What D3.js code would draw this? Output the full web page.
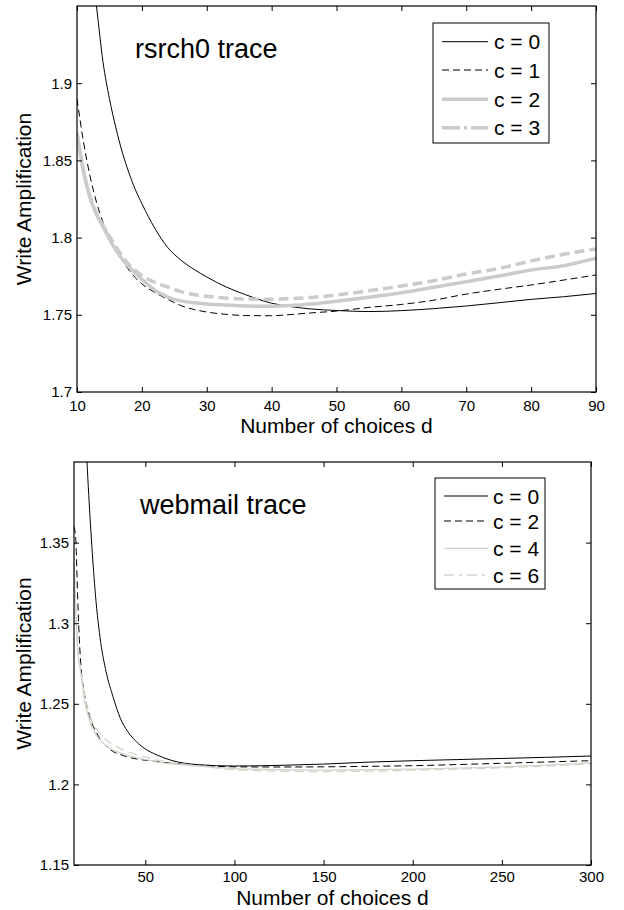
<!DOCTYPE html>
<html>
<head>
<meta charset="utf-8">
<script src="https://cdn.jsdelivr.net/npm/d3@7"></script>
<style>
  body { margin: 0; background: #fff; }
  svg { display: block; }
  text { font-family: "Liberation Sans", Arial, Helvetica, sans-serif; fill: #000; }
</style>
</head>
<body>
<svg id="chart" width="624" height="910"></svg>
<script>
// rsrch0 trace (top panel)
const rsrchD = [10, 11, 12, 13, 14, 15, 16, 17, 18, 19, 20, 22, 24, 26, 28, 30, 33, 36, 40, 43, 46, 50, 55, 60, 65, 70, 75, 80, 85, 90];
const rsrchC0 = [2.08, 2.03, 1.985, 1.950, 1.914, 1.890, 1.871, 1.855, 1.842, 1.831, 1.822, 1.806, 1.7935, 1.7855, 1.7795, 1.7745, 1.768, 1.763, 1.7575, 1.7553, 1.7538, 1.7528, 1.7521, 1.7527, 1.754, 1.7557, 1.7578, 1.760, 1.7617, 1.7638];
const rsrchC1 = [1.890, 1.862, 1.840, 1.823, 1.810, 1.800, 1.792, 1.785, 1.779, 1.774, 1.770, 1.7645, 1.760, 1.756, 1.7535, 1.7518, 1.7503, 1.7495, 1.7494, 1.7502, 1.7512, 1.7524, 1.7548, 1.7567, 1.7595, 1.7634, 1.7665, 1.7693, 1.7725, 1.7758];
const rsrchC2 = [1.868, 1.843, 1.826, 1.815, 1.807, 1.799, 1.792, 1.786, 1.781, 1.777, 1.773, 1.766, 1.7615, 1.759, 1.7578, 1.757, 1.7563, 1.7557, 1.7555, 1.756, 1.757, 1.7588, 1.7613, 1.7643, 1.7678, 1.7714, 1.7751, 1.779, 1.7818, 1.7866];
const rsrchC3 = [1.867, 1.843, 1.827, 1.816, 1.808, 1.801, 1.794, 1.788, 1.7825, 1.7788, 1.7755, 1.771, 1.768, 1.765, 1.7632, 1.762, 1.7608, 1.7602, 1.760, 1.7605, 1.7612, 1.7628, 1.7656, 1.7686, 1.7721, 1.7764, 1.780, 1.7849, 1.7892, 1.7927];
const rsrchXTicks = [10, 20, 30, 40, 50, 60, 70, 80, 90];
const rsrchYTicks = [1.7, 1.75, 1.8, 1.85, 1.9];
const rsrchLabels = ['c = 0', 'c = 1', 'c = 2', 'c = 3'];

// webmail trace (bottom panel)
const webD = [10, 11, 12, 13, 14, 15, 16, 18, 20, 22, 25, 28, 32, 36, 40, 45, 50, 56, 65, 80, 100, 125, 150, 175, 200, 225, 250, 275, 300];
const webC0 = [1.66, 1.61, 1.56, 1.52, 1.48, 1.455, 1.43, 1.385, 1.348, 1.318, 1.288, 1.270, 1.254, 1.241, 1.233, 1.2265, 1.222, 1.2185, 1.2148, 1.2122, 1.2114, 1.2118, 1.2126, 1.2138, 1.2147, 1.2154, 1.2161, 1.2168, 1.2176];
const webC2 = [1.360, 1.352, 1.318, 1.290, 1.272, 1.262, 1.255, 1.2455, 1.238, 1.2335, 1.2275, 1.2238, 1.2203, 1.2185, 1.2170, 1.2158, 1.215, 1.2142, 1.2131, 1.2118, 1.2109, 1.2108, 1.2109, 1.2112, 1.2116, 1.2123, 1.2131, 1.2139, 1.2147];
const webC4 = [1.335, 1.305, 1.284, 1.275, 1.268, 1.260, 1.2515, 1.2425, 1.236, 1.2315, 1.227, 1.224, 1.2213, 1.2195, 1.218, 1.2166, 1.2155, 1.214, 1.2127, 1.2113, 1.2098, 1.2091, 1.2089, 1.2091, 1.2095, 1.2101, 1.2109, 1.212, 1.2134];
const webC6 = [1.338, 1.310, 1.286, 1.276, 1.269, 1.262, 1.255, 1.246, 1.2395, 1.2355, 1.231, 1.2275, 1.2245, 1.2222, 1.2203, 1.2185, 1.217, 1.2152, 1.2135, 1.2115, 1.2091, 1.2082, 1.2079, 1.2082, 1.2088, 1.2095, 1.2103, 1.2114, 1.2129];
const webXTicks = [50, 100, 150, 200, 250, 300];
const webYTicks = [1.15, 1.2, 1.25, 1.3, 1.35];
const webLabels = ['c = 0', 'c = 2', 'c = 4', 'c = 6'];

const svg = d3.select('#chart');

const GRAY = '#cbcbcb';
const WARM = '#d6d2ca';

const panels = [
  {
    id: 'rsrch', title: 'rsrch0 trace', titleX: 135, titleY: 58,
    left: 77, right: 596, top: 6, bottom: 392,
    xDomain: [10, 90], yDomain: [1.7, 1.95],
    xTicks: rsrchXTicks, yTicks: rsrchYTicks, xLabelY: 433, xPad: 8,
    d: rsrchD,
    series: [
      { values: rsrchC0, label: rsrchLabels[0], color: '#000', width: 1, dash: null },
      { values: rsrchC1, label: rsrchLabels[1], color: '#000', width: 1, dash: '7,4' },
      { values: rsrchC2, label: rsrchLabels[2], color: GRAY, width: 3.5, dash: null },
      { values: rsrchC3, label: rsrchLabels[3], color: GRAY, width: 3.5, dash: '10,5', legendDash: '18,4,3,4' }
    ],
    legend: { x0: 433, y0: 23, x1: 549, y1: 143, rows: [41.7, 70, 99.3, 127.7], lx0: 442, lx1: 488, tx: 494 }
  },
  {
    id: 'web', title: 'webmail trace', titleX: 140, titleY: 514,
    left: 74, right: 591, top: 462, bottom: 865,
    xDomain: [10, 300], yDomain: [1.15, 1.4],
    xTicks: webXTicks, yTicks: webYTicks, xLabelY: 905, xPad: 6,
    d: webD,
    series: [
      { values: webC0, label: webLabels[0], color: '#000', width: 1, dash: null },
      { values: webC2, label: webLabels[1], color: '#000', width: 1, dash: '7,4' },
      { values: webC4, label: webLabels[2], color: WARM, width: 1.3, dash: null },
      { values: webC6, label: webLabels[3], color: WARM, width: 1.3, dash: '9,5', legendDash: '10,5,3,5' }
    ],
    legend: { x0: 435, y0: 478, x1: 545, y1: 589, rows: [496, 521, 548.3, 575], lx0: 444, lx1: 488, tx: 493 }
  }
];

function styleAxis(sel) {
  sel.select('.domain').remove();
  sel.selectAll('.tick line').attr('stroke', '#000').attr('stroke-width', 1);
  sel.selectAll('.tick text').attr('font-size', 15)
    .attr('font-family', '"Liberation Sans", Arial, Helvetica, sans-serif')
    .attr('fill', '#000');
}

panels.forEach(p => {
  const x = d3.scaleLinear().domain(p.xDomain).range([p.left, p.right]);
  const y = d3.scaleLinear().domain(p.yDomain).range([p.bottom, p.top]);
  const g = svg.append('g').attr('class', 'panel-' + p.id);

  const clipId = 'clip-' + p.id;
  svg.append('clipPath').attr('id', clipId)
    .append('rect')
    .attr('x', p.left).attr('y', p.top)
    .attr('width', p.right - p.left).attr('height', p.bottom - p.top);

  const line = d3.line()
    .x((v, i) => x(p.d[i]))
    .y(v => y(v))
    .curve(d3.curveMonotoneX);

  // series
  const lines = g.append('g').attr('clip-path', `url(#${clipId})`);
  p.series.forEach(s => {
    lines.append('path')
      .attr('d', line(s.values))
      .attr('fill', 'none')
      .attr('stroke', s.color)
      .attr('stroke-width', s.width)
      .attr('stroke-dasharray', s.dash)
      .attr('stroke-linejoin', 'round');
  });

  // axes, ticks inward on all four sides
  g.append('g').attr('transform', `translate(0,${p.bottom})`)
    .call(d3.axisBottom(x).tickValues(p.xTicks).tickSize(-5).tickPadding(p.xPad).tickFormat(d3.format('d')))
    .call(styleAxis);
  g.append('g').attr('transform', `translate(0,${p.top})`)
    .call(d3.axisTop(x).tickValues(p.xTicks).tickSize(-5).tickFormat(''))
    .call(styleAxis);
  g.append('g').attr('transform', `translate(${p.left},0)`)
    .call(d3.axisLeft(y).tickValues(p.yTicks).tickSize(-5).tickPadding(5).tickFormat(v => String(v)))
    .call(styleAxis);
  g.append('g').attr('transform', `translate(${p.right},0)`)
    .call(d3.axisRight(y).tickValues(p.yTicks).tickSize(-5).tickFormat(''))
    .call(styleAxis);

  g.append('rect')
    .attr('x', p.left).attr('y', p.top)
    .attr('width', p.right - p.left).attr('height', p.bottom - p.top)
    .attr('fill', 'none').attr('stroke', '#000').attr('stroke-width', 1.2);

  // labels
  g.append('text')
    .attr('x', (p.left + p.right) / 2).attr('y', p.xLabelY)
    .attr('text-anchor', 'middle').attr('font-size', 21)
    .text('Number of choices d');
  g.append('text')
    .attr('transform', `translate(31,${(p.top + p.bottom) / 2}) rotate(-90)`)
    .attr('text-anchor', 'middle').attr('font-size', 21)
    .text('Write Amplification');
  g.append('text')
    .attr('x', p.titleX).attr('y', p.titleY)
    .attr('font-size', 27)
    .text(p.title);

  // legend
  const L = p.legend;
  const lg = g.append('g').attr('class', 'legend');
  lg.append('rect')
    .attr('x', L.x0).attr('y', L.y0)
    .attr('width', L.x1 - L.x0).attr('height', L.y1 - L.y0)
    .attr('fill', '#fff').attr('stroke', '#000').attr('stroke-width', 1);
  p.series.forEach((s, i) => {
    const ry = L.rows[i];
    lg.append('line')
      .attr('x1', L.lx0).attr('x2', L.lx1).attr('y1', ry).attr('y2', ry)
      .attr('stroke', s.color)
      .attr('stroke-width', s.width)
      .attr('stroke-dasharray', s.legendDash || s.dash);
    lg.append('text')
      .attr('x', L.tx).attr('y', ry).attr('dy', '0.36em')
      .attr('font-size', 21)
      .text(s.label);
  });
});
</script>
</body>
</html>
